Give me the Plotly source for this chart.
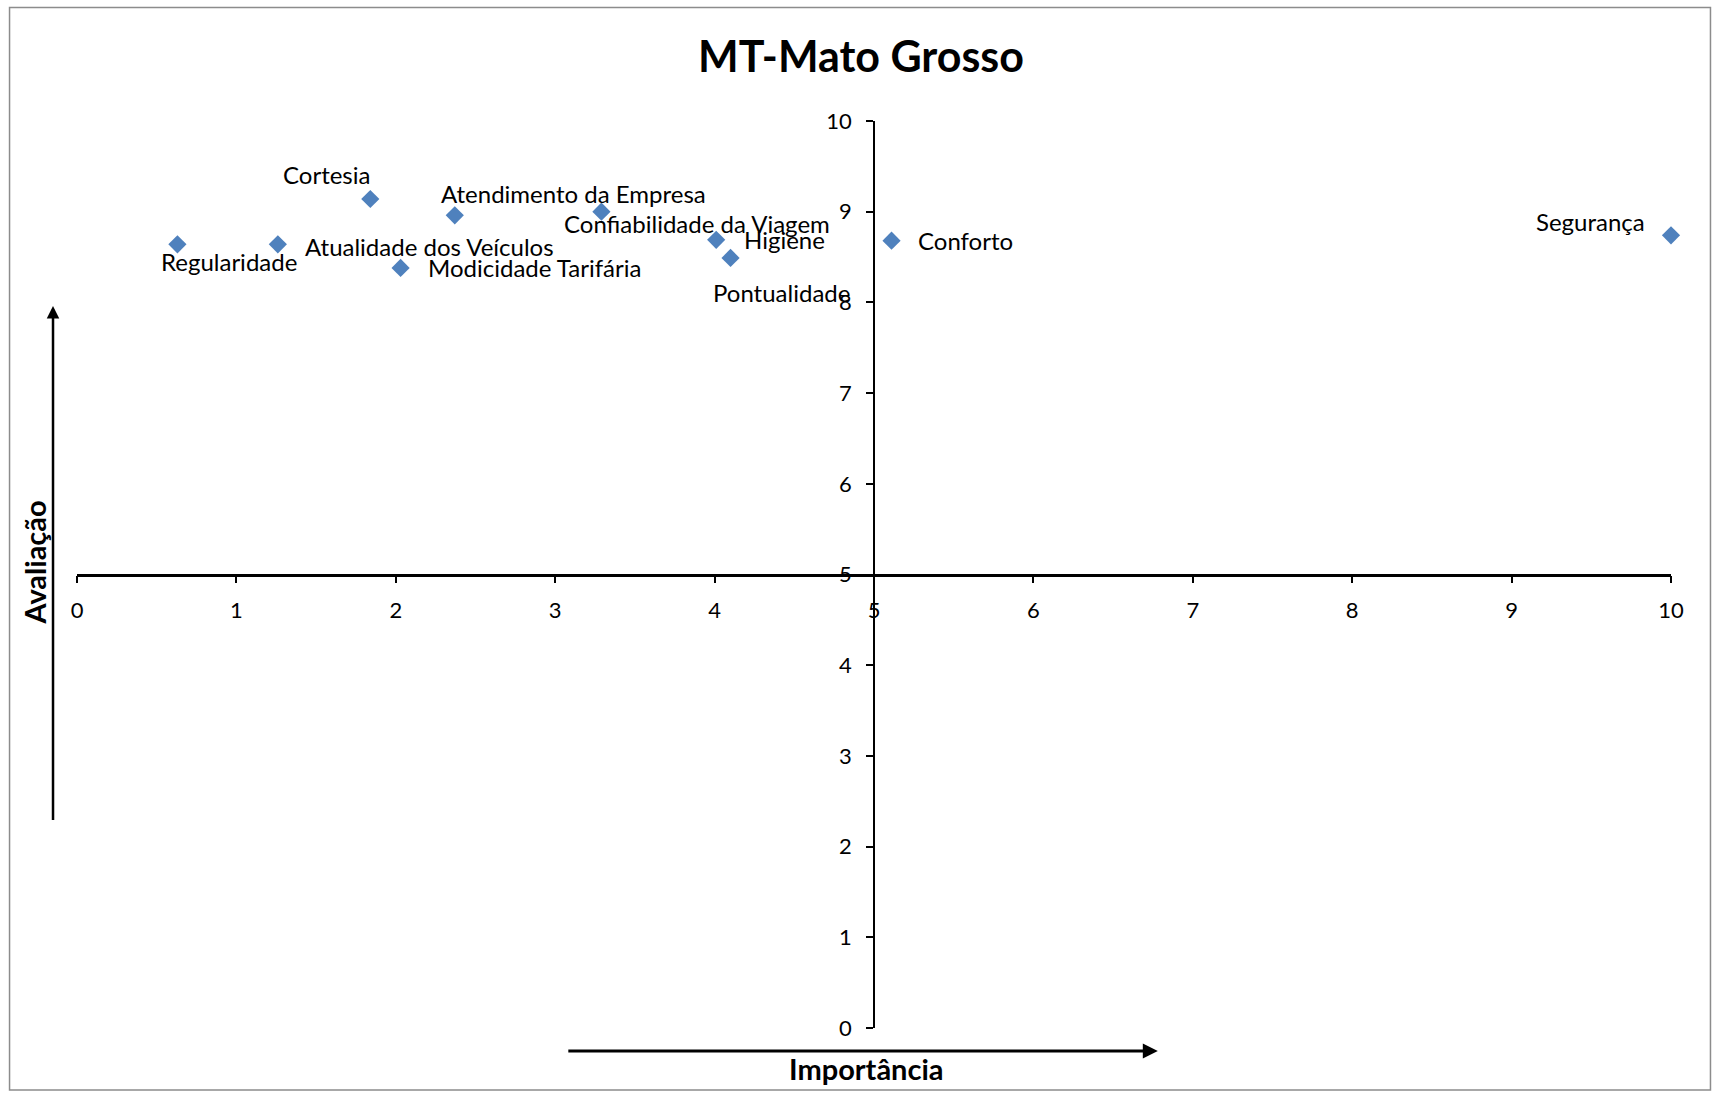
import plotly.graph_objects as go

# ---- data ----
attributes = ["Regularidade", "Atualidade dos Veículos", "Cortesia", "Modicidade Tarifária",
              "Atendimento da Empresa", "Confiabilidade da Viagem", "Higiene", "Pontualidade",
              "Conforto", "Segurança"]
importancia = [0.63, 1.26, 1.84, 2.03, 2.37, 3.29, 4.01, 4.10, 5.11, 10.0]
avaliacao = [8.64, 8.64, 9.14, 8.38, 8.96, 9.00, 8.69, 8.49, 8.68, 8.74]
tick_vals = [0, 1, 2, 3, 4, 5, 6, 7, 8, 9, 10]
title_text = "MT-Mato Grosso"
x_title = "Importância"
y_title = "Avaliação"

# label placement (anchor, xshift px, yshift px)
label_pos = {
    "Regularidade": ("center", 52, -17),
    "Atualidade dos Veículos": ("left", 25, -2),
    "Cortesia": ("center", -44, 25),
    "Modicidade Tarifária": ("left", 25, 0),
    "Atendimento da Empresa": ("center", 119, 22),
    "Confiabilidade da Viagem": ("center", 96, -12),
    "Higiene": ("left", 26, 0),
    "Pontualidade": ("center", 51, -35),
    "Conforto": ("left", 24, 0),
    "Segurança": ("right", -24, 14),
}

W, H = 1713, 1093
L, R, T, B = 76.5, 1671.5, 121, 1028
pw, ph = R - L, B - T

def px(x):
    return (x - L) / pw

def py(y):
    return (B - y) / ph

FONT = "Lato"

fig = go.Figure()
fig.add_trace(go.Scatter(
    x=importancia, y=avaliacao, mode="markers",
    marker=dict(symbol="diamond", size=14, color="#4F81BD"),
    cliponaxis=False, showlegend=False, hoverinfo="text", text=attributes,
))

annotations = []
for name, xv, yv in zip(attributes, importancia, avaliacao):
    anc, xs, ys = label_pos[name]
    annotations.append(dict(
        x=xv, y=yv, xref="x", yref="y", text=name, showarrow=False,
        xanchor=anc, yanchor="middle", xshift=xs, yshift=ys,
        font=dict(family=FONT, size=24, color="black"),
    ))

# axis titles
annotations.append(dict(x=px(866), y=py(1068), xref="paper", yref="paper", text="<b>" + x_title + "</b>",
                        showarrow=False, xanchor="center", yanchor="middle",
                        font=dict(family=FONT, size=29, color="black")))
annotations.append(dict(x=px(33), y=py(563), xref="paper", yref="paper", text="<b>" + y_title + "</b>",
                        showarrow=False, xanchor="center", yanchor="middle", textangle=-90,
                        font=dict(family=FONT, size=29, color="black")))
# decorative arrows
annotations.append(dict(x=px(52.5), y=py(306), xref="paper", yref="paper", ax=0, ay=821.5 - 306,
                        axref="pixel", ayref="pixel", showarrow=True, arrowhead=2, arrowsize=1,
                        arrowwidth=2.5, arrowcolor="black", text=""))
annotations.append(dict(x=px(1158), y=py(1051), xref="paper", yref="paper", ax=-(1158 - 567), ay=0,
                        axref="pixel", ayref="pixel", showarrow=True, arrowhead=2, arrowsize=1,
                        arrowwidth=3, arrowcolor="black", text=""))

shapes = [dict(type="rect", xref="paper", yref="paper", x0=px(9), x1=px(1711), y0=py(1090), y1=py(7.5),
               line=dict(color="#8c8c8c", width=1.5), fillcolor="rgba(0,0,0,0)", layer="below")]

fig.update_layout(
    width=W, height=H,
    margin=dict(l=L, r=W - R, t=T, b=H - B, pad=0),
    paper_bgcolor="white", plot_bgcolor="white",
    title=dict(text="<b>" + title_text + "</b>", x=px(861), xref="paper", xanchor="center",
               y=1 - 57 / H, yref="container", yanchor="middle",
               font=dict(family=FONT, size=43, color="black")),
    xaxis=dict(range=[0, 10], tickvals=tick_vals, showgrid=False, zeroline=False,
               anchor="free", position=0.5, side="bottom",
               showline=True, linecolor="black", linewidth=2.5,
               ticks="outside", ticklen=7, tickwidth=1.5, tickcolor="black",
               ticklabelstandoff=8,
               tickfont=dict(family=FONT, size=22, color="black")),
    yaxis=dict(range=[0, 10], tickvals=tick_vals, showgrid=False, zeroline=False,
               anchor="free", position=0.5, side="left",
               showline=True, linecolor="black", linewidth=1.5,
               ticks="outside", ticklen=7, tickwidth=1.5, tickcolor="black",
               ticklabelstandoff=10,
               tickfont=dict(family=FONT, size=22, color="black")),
    annotations=annotations, shapes=shapes,
    font=dict(family=FONT),
)

fig.write_html("out.html", config={"displayModeBar": False},
               post_script="document.body.style.margin='0px';document.body.style.overflow='hidden';")
